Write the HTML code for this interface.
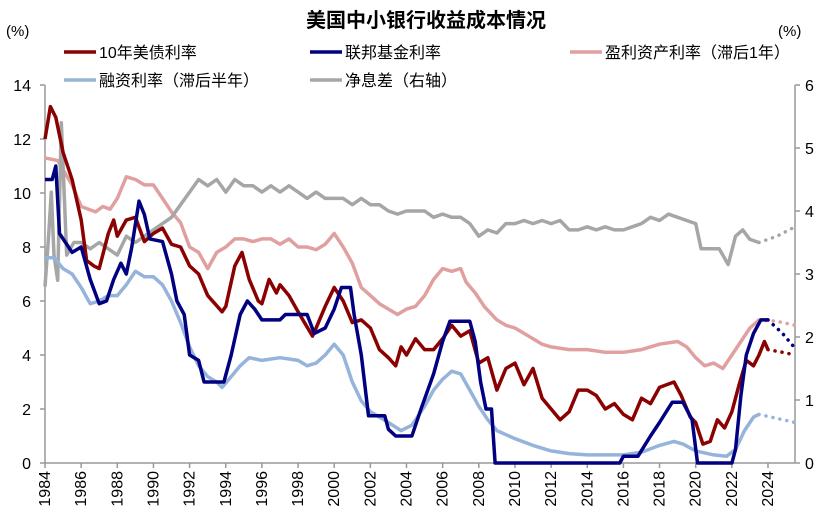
<!DOCTYPE html>
<html><head><meta charset="utf-8">
<style>
body{margin:0;background:#fff;}
svg text{font-family:"Liberation Sans","Noto Sans CJK SC",sans-serif;}
</style></head>
<body>
<svg id="chart" width="839" height="524" viewBox="0 0 839 524" xmlns="http://www.w3.org/2000/svg">
<text x="426" y="27" text-anchor="middle" font-size="20" font-weight="bold" fill="#000">美国中小银行收益成本情况</text>
<text x="6" y="36" font-size="15" fill="#000">(%)</text>
<text x="778" y="36" font-size="15" fill="#000">(%)</text>
<g id="legend" font-size="16" fill="#000">
  <g><line x1="64" y1="52" x2="96" y2="52" stroke="#8B0000" stroke-width="3.5"/><text x="99" y="58">10年美债利率</text></g>
  <g><line x1="310" y1="52" x2="342" y2="52" stroke="#000080" stroke-width="3.5"/><text x="345" y="58">联邦基金利率</text></g>
  <g><line x1="570" y1="52" x2="602" y2="52" stroke="#E0A0A0" stroke-width="3.5"/><text x="605" y="58">盈利资产利率（滞后1年）</text></g>
  <g><line x1="64" y1="80" x2="96" y2="80" stroke="#95B3DB" stroke-width="3.5"/><text x="99" y="86">融资利率（滞后半年）</text></g>
  <g><line x1="310" y1="80" x2="342" y2="80" stroke="#A6A6A6" stroke-width="3.5"/><text x="345" y="86">净息差（右轴）</text></g>
</g>
<g id="axes"></g>
<g id="series"></g>
</svg>
<script>
const xTicks=[1984,1986,1988,1990,1992,1994,1996,1998,2000,2002,2004,2006,2008,2010,2012,2014,2016,2018,2020,2022,2024];
const leftTicks=[0,2,4,6,8,10,12,14];
const rightTicks=[0,1,2,3,4,5,6];

const t10Years=[1984,1984.3,1984.6,1985,1985.5,1986,1986.3,1986.7,1987,1987.5,1987.8,1988,1988.5,1989,1989.5,1990,1990.5,1991,1991.5,1992,1992.5,1993,1993.8,1994,1994.5,1994.9,1995.3,1995.8,1996,1996.4,1996.8,1997,1997.5,1998,1998.8,1999,1999.5,2000,2000.5,2001,2001.5,2002,2002.5,2003,2003.4,2003.7,2004,2004.5,2005,2005.5,2006,2006.5,2007,2007.5,2008,2008.5,2009,2009.5,2010,2010.5,2011,2011.5,2012,2012.5,2013,2013.5,2014,2014.5,2015,2015.5,2016,2016.5,2017,2017.5,2018,2018.8,2019.2,2019.7,2020,2020.4,2020.8,2021.2,2021.6,2022,2022.4,2022.8,2023.2,2023.5,2023.8,2024];
const t10Values=[12,13.2,12.8,11.5,10.5,9.0,7.5,7.3,7.2,8.5,9.0,8.4,9.0,9.1,8.2,8.5,8.7,8.1,8.0,7.3,7.0,6.2,5.6,5.8,7.3,7.8,6.8,6.0,5.9,6.8,6.3,6.6,6.2,5.6,4.7,5.0,5.8,6.5,6.0,5.2,5.3,5.0,4.2,3.9,3.6,4.3,4.0,4.6,4.2,4.2,4.6,5.1,4.7,4.9,3.7,3.9,2.7,3.5,3.7,2.9,3.5,2.4,2.0,1.6,1.9,2.7,2.7,2.5,2.0,2.2,1.8,1.6,2.4,2.2,2.8,3.0,2.5,1.7,1.5,0.7,0.8,1.6,1.3,1.9,2.9,3.8,3.6,4.0,4.5,4.2];
const t10ProjYears=[2024,2024.8,2025.5];
const t10ProjValues=[4.2,4.1,4.0];

const ffYears=[1984,1984.4,1984.6,1984.8,1985,1985.5,1986,1986.5,1987,1987.4,1987.8,1988.2,1988.5,1988.8,1989.2,1989.5,1989.8,1990.5,1991,1991.3,1991.7,1992,1992.5,1992.8,1993.9,1994.3,1994.8,1995.2,1995.6,1996,1997,1997.3,1998.5,1998.9,1999.5,2000,2000.4,2000.9,2001.1,2001.5,2001.9,2002.8,2003,2003.4,2004.3,2004.8,2005.5,2006,2006.4,2007.5,2007.8,2008.1,2008.4,2008.7,2008.9,2015.8,2016,2016.8,2017.5,2018,2018.7,2019.3,2019.8,2020.1,2022,2022.2,2022.5,2022.8,2023.2,2023.6,2024];
const ffValues=[10.5,10.5,11.0,8.5,8.3,7.8,8.0,6.8,5.9,6.0,6.8,7.4,7.0,8.0,9.7,9.2,8.3,8.2,7.0,6.0,5.5,4.0,3.8,3.0,3.0,4.0,5.5,6.0,5.7,5.3,5.3,5.5,5.5,4.8,5.0,5.7,6.5,6.5,5.5,4.0,1.75,1.75,1.25,1.0,1.0,2.0,3.3,4.5,5.25,5.25,4.5,3.0,2.0,2.0,0,0,0.25,0.25,1.0,1.5,2.25,2.25,1.6,0,0,0.5,2.5,4.0,4.8,5.3,5.3];
const ffProjYears=[2024,2024.8,2025.5];
const ffProjValues=[5.3,4.8,4.25];

const eaYears=[1984,1984.7,1985.5,1986,1986.8,1987.2,1987.6,1988,1988.5,1989,1989.5,1990,1990.5,1991,1991.5,1992,1992.5,1993,1993.5,1994,1994.5,1995,1995.5,1996,1996.5,1997,1997.5,1998,1998.5,1999,1999.5,2000,2000.5,2001,2001.5,2002,2002.5,2003,2003.5,2004,2004.5,2005,2005.5,2006,2006.5,2007,2007.3,2007.8,2008.3,2009,2009.5,2010,2010.5,2011,2011.5,2012,2013,2014,2015,2016,2017,2018,2019,2019.5,2020,2020.5,2021,2021.5,2022,2022.5,2023,2023.5];
const eaValues=[11.3,11.2,10.3,9.5,9.3,9.5,9.4,9.8,10.6,10.5,10.3,10.3,9.8,9.3,8.9,8.0,7.8,7.2,7.8,8.0,8.3,8.3,8.2,8.3,8.3,8.1,8.3,8.0,8.0,7.9,8.1,8.5,8.0,7.4,6.5,6.2,5.9,5.7,5.5,5.7,5.8,6.2,6.8,7.2,7.1,7.2,6.7,6.3,5.8,5.3,5.1,5.0,4.8,4.6,4.4,4.3,4.2,4.2,4.1,4.1,4.2,4.4,4.5,4.3,3.9,3.6,3.7,3.5,4.0,4.5,5.0,5.3];
const eaProjYears=[2023.5,2024.5,2025.5];
const eaProjValues=[5.3,5.25,5.1];

const fcYears=[1984,1984.5,1985,1985.5,1986,1986.5,1987,1987.5,1988,1988.5,1989,1989.5,1990,1990.5,1991,1991.5,1992,1992.5,1993,1993.5,1993.8,1994.3,1994.8,1995.3,1996,1997,1998,1998.5,1999,1999.5,2000,2000.5,2001,2001.5,2002,2003,2003.7,2004.3,2005,2005.5,2006,2006.5,2007,2007.5,2008,2008.5,2009,2010,2011,2012,2013,2014,2015,2016,2017,2018,2018.8,2019.3,2020,2021,2021.7,2022.2,2022.7,2023.2,2023.5];
const fcValues=[7.6,7.6,7.2,7.0,6.5,5.9,6.0,6.2,6.2,6.6,7.1,6.9,6.9,6.6,6.0,5.2,4.3,3.6,3.2,3.0,2.8,3.2,3.6,3.9,3.8,3.9,3.8,3.6,3.7,4.0,4.4,4.0,3.0,2.3,1.9,1.5,1.2,1.4,2.1,2.7,3.1,3.4,3.3,2.7,2.1,1.6,1.2,0.9,0.65,0.45,0.35,0.3,0.3,0.3,0.4,0.65,0.8,0.7,0.45,0.3,0.25,0.5,1.2,1.7,1.8];
const fcProjYears=[2023.5,2024.5,2025.5];
const fcProjValues=[1.8,1.65,1.5];

const nimYears=[1984,1984.2,1984.35,1984.5,1984.7,1984.9,1985.2,1985.6,1986,1986.5,1987,1987.5,1988,1988.5,1989,1989.5,1990,1990.5,1991,1991.5,1992,1992.5,1993,1993.5,1994,1994.5,1995,1995.5,1996,1996.5,1997,1997.5,1998,1998.5,1999,1999.5,2000,2000.5,2001,2001.5,2002,2002.5,2003,2003.5,2004,2004.5,2005,2005.5,2006,2006.5,2007,2007.5,2008,2008.5,2009,2009.5,2010,2010.5,2011,2011.5,2012,2012.5,2013,2013.5,2014,2014.5,2015,2015.5,2016,2016.5,2017,2017.5,2018,2018.5,2019,2019.5,2020,2020.3,2020.8,2021.3,2021.8,2022.2,2022.6,2023,2023.5];
const nimValues=[2.8,3.6,4.3,3.3,2.9,5.4,3.3,3.5,3.5,3.4,3.5,3.4,3.3,3.6,3.5,3.6,3.7,3.8,3.9,4.1,4.3,4.5,4.4,4.5,4.3,4.5,4.4,4.4,4.3,4.4,4.3,4.4,4.3,4.2,4.3,4.2,4.2,4.2,4.1,4.2,4.1,4.1,4.0,3.95,4.0,4.0,4.0,3.9,3.95,3.9,3.9,3.8,3.6,3.7,3.65,3.8,3.8,3.85,3.8,3.85,3.8,3.85,3.7,3.7,3.75,3.7,3.75,3.7,3.7,3.75,3.8,3.9,3.85,3.95,3.9,3.85,3.8,3.4,3.4,3.4,3.15,3.6,3.7,3.55,3.5];
const nimProjYears=[2023.5,2024.5,2025.5];
const nimProjValues=[3.5,3.6,3.75];

const X0=45,X1=795,Y0=463,YT=85;
const xs=y=>X0+(y-1984)*(768-45)/40;
const yl=v=>Y0-v*(Y0-YT)/14;
const yr=v=>Y0-v*(Y0-YT)/6;
const NS="http://www.w3.org/2000/svg";
function mk(tag,attrs,parent){const e=document.createElementNS(NS,tag);for(const k in attrs)e.setAttribute(k,attrs[k]);parent.appendChild(e);return e;}
const axes=document.getElementById('axes');
let e;
e=mk('line',{x1:X0,y1:YT,x2:X0,y2:Y0,stroke:'#999','stroke-width':1.5},axes);


e=mk('line',{x1:X1,y1:YT,x2:X1,y2:Y0,stroke:'#999','stroke-width':1.5},axes);


e=mk('line',{x1:X0,y1:Y0,x2:X1,y2:Y0,stroke:'#999','stroke-width':1.5},axes);


leftTicks.forEach(v=>{
  mk('line',{x1:X0-5,y1:yl(v),x2:X0,y2:yl(v),stroke:'#999','stroke-width':1.5},axes);
  const t=mk('text',{x:X0-14,y:yl(v)+6,'text-anchor':'end','font-size':16,fill:'#000'},axes);t.textContent=v;
  
  
});
rightTicks.forEach(v=>{
  mk('line',{x1:X1,y1:yr(v),x2:X1+5,y2:yr(v),stroke:'#999','stroke-width':1.5},axes);
  const t=mk('text',{x:X1+10,y:yr(v)+6,'font-size':16,fill:'#000'},axes);t.textContent=v;
  
  
});
xTicks.forEach(y=>{
  const x=xs(y);
  mk('line',{x1:x,y1:Y0,x2:x,y2:Y0+5,stroke:'#999','stroke-width':1.5},axes);
  const t=mk('text',{x:0,y:0,'font-size':16,fill:'#000','text-anchor':'end',transform:`translate(${x+5},${Y0+8}) rotate(-90)`},axes);t.textContent=y;
  
  
});
const sg=document.getElementById('series');
function line(xsA,vs,yf,color,name,dotted){
  const d=xsA.map((y,i)=>(i?'L':'M')+xs(y).toFixed(1)+','+yf(vs[i]).toFixed(1)).join('');
  const p=mk('path',{d:d,fill:'none',stroke:color,'stroke-width':3.5,'stroke-linejoin':'round','stroke-linecap':dotted?'round':'butt'},sg);
  if(dotted)p.setAttribute('stroke-dasharray','0.1 7');
  
  
}
line(eaYears,eaValues,yl,'#E0A0A0','earning-asset-yield-line');
line(eaProjYears,eaProjValues,yl,'#E0A0A0','earning-asset-yield-projection',true);
line(nimYears,nimValues,yr,'#A6A6A6','nim-line');
line(nimProjYears,nimProjValues,yr,'#A6A6A6','nim-projection',true);
line(fcYears,fcValues,yl,'#95B3DB','funding-cost-line');
line(fcProjYears,fcProjValues,yl,'#95B3DB','funding-cost-projection',true);
line(t10Years,t10Values,yl,'#8B0000','treasury-10y-line');
line(t10ProjYears,t10ProjValues,yl,'#8B0000','treasury-10y-projection',true);
line(ffYears,ffValues,yl,'#000080','fed-funds-line');
line(ffProjYears,ffProjValues,yl,'#000080','fed-funds-projection',true);
</script>
</body></html>
